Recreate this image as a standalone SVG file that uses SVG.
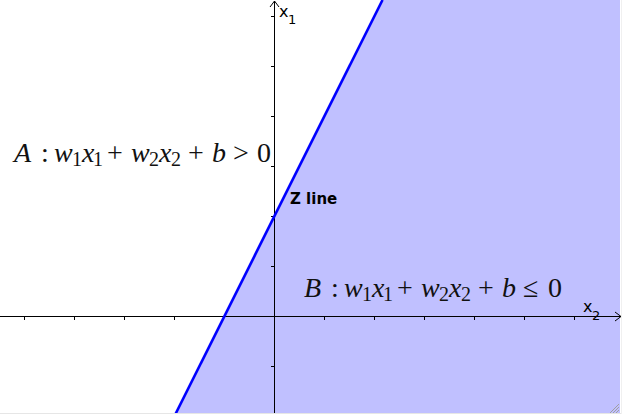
<svg xmlns="http://www.w3.org/2000/svg" width="622" height="414" viewBox="0 0 622 414">
<style>
.ax{stroke:#000;stroke-width:1;fill:none}
.tk{stroke:#000;stroke-width:1}
.m{font-family:"Liberation Serif","Times New Roman",serif;font-size:28px;fill:#111}
.i{font-style:italic}
.s{font-size:20px}
.lab{font-family:"DejaVu Sans",sans-serif;fill:#000}
</style>
<rect x="0" y="0" width="622" height="414" fill="#fff"/>
<g id="regionB">
<polygon points="382.5,0 620,0 620,413 175.5,413" fill="#c0c0ff"/>
</g>
<g id="axes">
<line class="ax" x1="0" y1="316.5" x2="621" y2="316.5"/>
<polyline class="ax" points="615,312 621,316.5 615,321"/>
<line class="ax" x1="274.5" y1="1" x2="274.5" y2="414"/>
<polyline class="ax" points="270,7 274.5,1 279,7"/>
<g class="tk">
<line x1="24.5" y1="316" x2="24.5" y2="320"/>
<line x1="74.5" y1="316" x2="74.5" y2="320"/>
<line x1="124.5" y1="316" x2="124.5" y2="320"/>
<line x1="174.5" y1="316" x2="174.5" y2="320"/>
<line x1="324.5" y1="316" x2="324.5" y2="320"/>
<line x1="374.5" y1="316" x2="374.5" y2="320"/>
<line x1="424.5" y1="316" x2="424.5" y2="320"/>
<line x1="474.5" y1="316" x2="474.5" y2="320"/>
<line x1="524.5" y1="316" x2="524.5" y2="320"/>
<line x1="574.5" y1="316" x2="574.5" y2="320"/>
<line x1="271" y1="16.5" x2="275" y2="16.5"/>
<line x1="271" y1="66.5" x2="275" y2="66.5"/>
<line x1="271" y1="116.5" x2="275" y2="116.5"/>
<line x1="271" y1="166.5" x2="275" y2="166.5"/>
<line x1="271" y1="216.5" x2="275" y2="216.5"/>
<line x1="271" y1="266.5" x2="275" y2="266.5"/>
<line x1="271" y1="366.5" x2="275" y2="366.5"/>
</g>
<text class="lab" font-size="16" x="279" y="17">x<tspan font-size="13" x="288" y="24">1</tspan></text>
<text class="lab" font-size="16" x="583" y="312">x<tspan font-size="13" x="592" y="320">2</tspan></text>
</g>
<g id="connectors">
<line id="zline" x1="382.5" y1="0" x2="175.5" y2="414" stroke="#0000ff" stroke-width="2.6"/>
</g>
<g id="label-z">
<text class="lab" font-size="15" font-weight="bold" x="290" y="204">Z line</text>
</g>
<g id="label-a">
<text class="m" y="162"><tspan class="i" x="14">A</tspan><tspan x="41">:</tspan><tspan class="i" x="54">w</tspan><tspan class="s" x="72" y="166">1</tspan><tspan class="i" x="82" y="162">x</tspan><tspan class="s" x="93" y="166">1</tspan><tspan x="107" y="162">+</tspan><tspan class="i" x="131">w</tspan><tspan class="s" x="149" y="166">2</tspan><tspan class="i" x="159" y="162">x</tspan><tspan class="s" x="171" y="166">2</tspan><tspan x="188" y="162">+</tspan><tspan class="i" x="212">b</tspan><tspan x="233">&gt;</tspan><tspan x="257">0</tspan></text>
</g>
<g id="label-b">
<text class="m" y="297"><tspan class="i" x="304">B</tspan><tspan x="331">:</tspan><tspan class="i" x="344">w</tspan><tspan class="s" x="362" y="301">1</tspan><tspan class="i" x="372" y="297">x</tspan><tspan class="s" x="383" y="301">1</tspan><tspan x="397" y="297">+</tspan><tspan class="i" x="421">w</tspan><tspan class="s" x="439" y="301">2</tspan><tspan class="i" x="449" y="297">x</tspan><tspan class="s" x="461" y="301">2</tspan><tspan x="478" y="297">+</tspan><tspan class="i" x="502">b</tspan><tspan x="523">≤</tspan><tspan x="548">0</tspan></text>
</g>
<g id="frame">
<line x1="0" y1="413.5" x2="622" y2="413.5" stroke="#e6e6e6"/>
<line x1="621.5" y1="0" x2="621.5" y2="414" stroke="#f0f0f0"/>
<g stroke="#a0a0a0" stroke-width="1">
<line x1="619" y1="404" x2="610" y2="413"/>
<line x1="619" y1="407" x2="613" y2="413"/>
<line x1="619" y1="410" x2="616" y2="413"/>
</g>
</g>
</svg>
